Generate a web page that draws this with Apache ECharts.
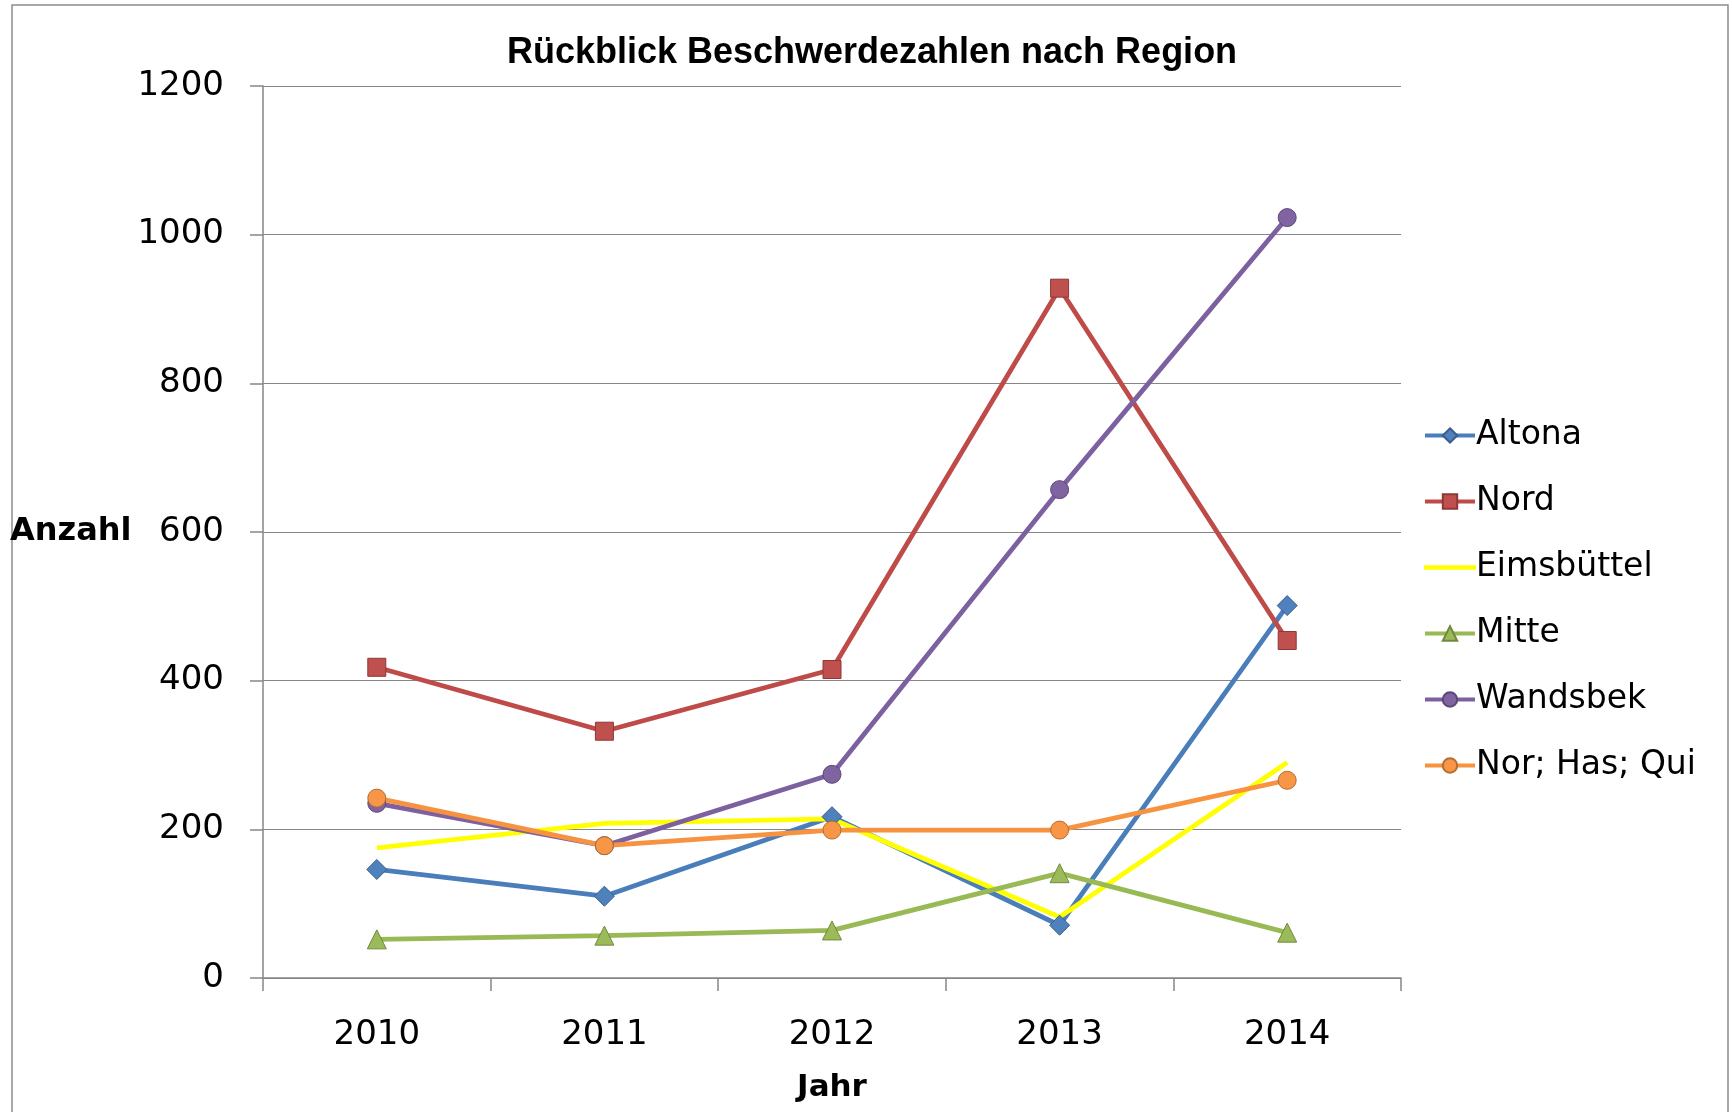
<!DOCTYPE html>
<html><head><meta charset="utf-8">
<script src="https://cdn.jsdelivr.net/npm/echarts@6/dist/echarts.min.js"></script>
<style>html,body{margin:0;padding:0;background:#fff}#c{width:1732px;height:1112px}</style>
</head><body><div id="c"></div>
<script>
const categories = ['2010', '2011', '2012', '2013', '2014'];
const altona = [146, 110, 217, 71, 501];
const nord = [418, 332, 415, 928, 454];
const eimsbuettel = [175, 208, 214, 82, 290];
const mitte = [52, 57, 64, 141, 61];
const wandsbek = [235, 178, 274, 657, 1023];
const norHasQui = [242, 178, 199, 199, 266];
const yTicks = [0, 200, 400, 600, 800, 1000, 1200];

const FONT = 'DejaVu Sans';
function mk(name, data, lineColor, symbol, symbolSize, fill, border) {
  return {
    name, type: 'line', data,
    symbol, symbolSize, showSymbol: symbol !== 'none',
    lineStyle: { color: lineColor, width: 4.8 },
    itemStyle: { color: fill, borderColor: border, borderWidth: 1 },
    emphasis: { disabled: true },
    animation: false
  };
}
const chart = echarts.init(document.getElementById('c'), null, { renderer: 'canvas' });
chart.setOption({
  backgroundColor: '#ffffff',
  animation: false,
  graphic: [{
    type: 'rect', shape: { x: 12, y: 5, width: 1716, height: 1120 },
    style: { fill: 'none', stroke: '#8c8c8c', lineWidth: 1.5 }, silent: true
  }],
  title: {
    text: 'Rückblick Beschwerdezahlen nach Region',
    left: 867, top: 30, textAlign: 'center',
    textStyle: { fontFamily: 'Liberation Sans', fontWeight: 'bold', fontSize: 36, color: '#000' }
  },
  grid: { left: 263, right: 331, top: 86, bottom: 134, containLabel: false },
  legend: {
    orient: 'vertical', left: 1418, top: 414,
    itemWidth: 50, itemHeight: 18, itemGap: 33,
    lineStyle: { width: 4 },
    textStyle: { fontFamily: FONT, fontSize: 33, color: '#000', padding: [0, 0, 0, -4] },
    data: ['Altona', 'Nord',
      { name: 'Eimsbüttel', icon: 'path://M0,0 L20,0 L20,1 L0,1 Z' },
      'Mitte', 'Wandsbek', 'Nor; Has; Qui']
  },
  xAxis: {
    type: 'category', data: categories, boundaryGap: true,
    name: 'Jahr', nameLocation: 'middle', nameGap: 94,
    nameTextStyle: { fontFamily: FONT, fontWeight: 'bold', fontSize: 31, color: '#000' },
    axisLine: { lineStyle: { color: '#868686', width: 1.5 } },
    axisTick: { show: true, length: 13, alignWithLabel: false, lineStyle: { color: '#868686', width: 1.5 } },
    axisLabel: { fontFamily: FONT, fontSize: 34, color: '#000', margin: 40 },
    splitLine: { show: false }
  },
  yAxis: {
    type: 'value', min: 0, max: 1200, interval: 200,
    name: 'Anzahl', nameLocation: 'middle', nameRotate: 0, nameGap: 128,
    nameTextStyle: { fontFamily: FONT, fontWeight: 'bold', fontSize: 32, color: '#000', align: 'right' },
    axisLine: { show: true, lineStyle: { color: '#868686', width: 1.5 } },
    axisTick: { show: true, length: 13, lineStyle: { color: '#868686', width: 1.5 } },
    axisLabel: { fontFamily: FONT, fontSize: 34, color: '#000', margin: 39,
      formatter: v => yTicks.includes(v) ? String(v) : '' },
    splitLine: { show: true, lineStyle: { color: '#868686', width: 1.2 } }
  },
  series: [
    mk('Altona', altona, '#4A7EBB', 'diamond', 20, '#4F81BD', '#385D8A'),
    mk('Nord', nord, '#BE4B48', 'rect', 18, '#C0504D', '#8C3836'),
    mk('Eimsbüttel', eimsbuettel, '#FFFF00', 'none', 0, '#FFFF00', '#FFFF00'),
    mk('Mitte', mitte, '#98B954', 'triangle', 19, '#9BBB59', '#71893F'),
    mk('Wandsbek', wandsbek, '#7D60A0', 'circle', 18, '#8064A2', '#5C4776'),
    mk('Nor; Has; Qui', norHasQui, '#F69240', 'circle', 18, '#F79646', '#B66D31')
  ]
});
</script></body></html>
